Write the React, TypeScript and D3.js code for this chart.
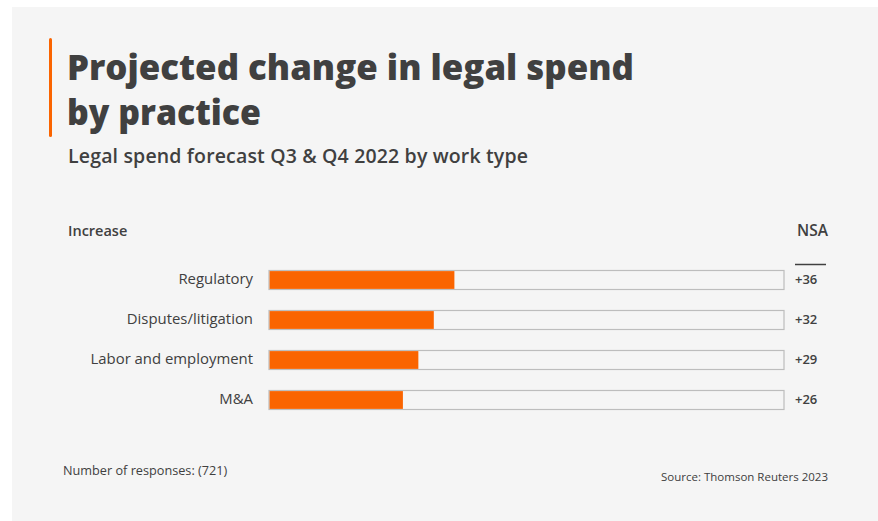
import React from "react";
import * as d3 from "d3";

const categories = ["Regulatory", "Disputes/litigation", "Labor and employment", "M&A"];
const values = [36, 32, 29, 26];
const valueLabels = ["+36", "+32", "+29", "+26"];
const domainMax = 100;

const W = 878;
const H = 521;
const FONT = "'Open Sans', 'Noto Sans', sans-serif";
const TEXT = "#404040";
const ORANGE = "#fa6400";

export default function App() {
  const x = d3.scaleLinear().domain([0, domainMax]).range([269, 784]);
  const y = d3.scaleBand<string>().domain(categories).range([260, 420]).paddingInner(0.525).paddingOuter(0.2625);
  const bh = y.bandwidth();
  return (
    <svg width={W} height={H} style={{ position: "absolute", left: 0, top: 0 }}>
      <rect x={0} y={0} width={W} height={H} fill="#ffffff" />
      <rect x={12} y={7} width={W - 12} height={H - 7} fill="#f5f5f5" />
      <rect x={49} y={38} width={3} height={99} fill={ORANGE} rx={1.5} />
      <text x={67} y={80} fontFamily={FONT} fontWeight={800} fontSize={36} fill={TEXT} textLength={567} lengthAdjust="spacingAndGlyphs">
        Projected change in legal spend
      </text>
      <text x={67} y={125} fontFamily={FONT} fontWeight={800} fontSize={36} fill={TEXT} textLength={194} lengthAdjust="spacingAndGlyphs">
        by practice
      </text>
      <text x={68} y={163} fontFamily={FONT} fontWeight={600} fontSize={19.5} fill={TEXT} textLength={460} lengthAdjust="spacing">
        Legal spend forecast Q3 &amp; Q4 2022 by work type
      </text>
      <text x={68} y={236} fontFamily={FONT} fontWeight={600} fontSize={14.5} fill={TEXT}>
        Increase
      </text>
      <text x={828} y={236} textAnchor="end" fontFamily={FONT} fontWeight={600} fontSize={15.5} fill={TEXT}>
        NSA
      </text>
      <line x1={795} x2={826} y1={264.5} y2={264.5} stroke={TEXT} strokeWidth={1.5} />
      {categories.map((c, i) => {
        const yy = y(c)!;
        return (
          <g key={c}>
            <rect x={x(0)} y={yy} width={x(domainMax) - x(0)} height={bh} fill="none" stroke="#bdbdbd" strokeWidth={1.2} />
            <rect x={x(0) + 0.6} y={yy + 0.6} width={x(values[i]) - x(0) - 0.6} height={bh - 1.2} fill={ORANGE} />
            <text x={253} y={yy + bh / 2} dy="0.28em" textAnchor="end" fontFamily={FONT} fontSize={14.9} fill={TEXT}>
              {c}
            </text>
            <text x={795} y={yy + bh / 2} dy="0.3em" fontFamily={FONT} fontWeight={600} fontSize={13} fill={TEXT}>
              {valueLabels[i]}
            </text>
          </g>
        );
      })}
      <text x={63} y={475} fontFamily={FONT} fontSize={12.7} fill={TEXT}>
        Number of responses: (721)
      </text>
      <text x={828} y={481} textAnchor="end" fontFamily={FONT} fontSize={11.5} fill={TEXT}>
        Source: Thomson Reuters 2023
      </text>
    </svg>
  );
}
